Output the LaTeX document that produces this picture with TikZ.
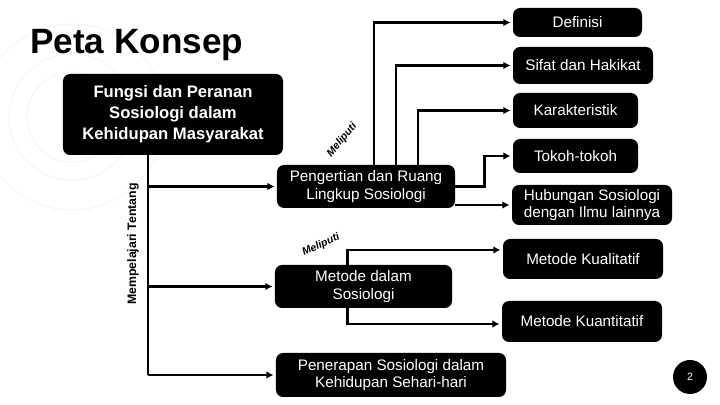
\documentclass[tikz,border=0pt]{standalone}
\usepackage{fontspec}
\setmainfont{Liberation Sans}
\usepackage{tikz}
\usetikzlibrary{arrows.meta, positioning, calc}

\begin{document}
\begin{tikzpicture}[
    x=0.03cm, y=-0.03cm,
    darkbox/.style={rectangle, rounded corners=6pt, fill=black, text=white, align=center, inner sep=2pt, font=\fontsize{13}{15}\selectfont},
    mainbox/.style={darkbox, font=\fontsize{14.2}{18}\selectfont\bfseries},
    arrow/.style={line width=2.4pt, -{Latex[length=6pt,width=6.5pt]}, shorten >=2pt},
    link/.style={line width=2.4pt},
    tag/.style={font=\fontsize{9}{10}\selectfont\bfseries\itshape, inner sep=1pt}
]

\useasboundingbox (0,0) rectangle (720,405);
\foreach \r in {45,63,93}
  \draw [gray!12, line width=0.6pt] (72,117) circle (\r);

\node (title) [anchor=west, font=\fontsize{30}{32}\selectfont\bfseries, inner sep=0pt] at (30,45) {Peta Konsep};

\node (fungsi) [mainbox, minimum width=6.6cm, minimum height=2.43cm] at (173,114.5) {Fungsi dan Peranan\\Sosiologi dalam\\Kehidupan Masyarakat};
\node (pengertian) [darkbox, minimum width=5.34cm, minimum height=1.29cm] at (366,186.5) {Pengertian dan Ruang\\Lingkup Sosiologi};
\node (metode) [darkbox, minimum width=5.31cm, minimum height=1.29cm] at (363.5,286.5) {Metode dalam\\Sosiologi};
\node (penerapan) [darkbox, minimum width=6.9cm, minimum height=1.32cm] at (391,375) {Penerapan Sosiologi dalam\\Kehidupan Sehari-hari};

\node (definisi) [darkbox, minimum width=3.87cm, minimum height=0.87cm] at (577.5,22.5) {Definisi};
\node (sifat) [darkbox, minimum width=4.2cm, minimum height=1.11cm] at (583,65.5) {Sifat dan Hakikat};
\node (karakteristik) [darkbox, minimum width=3.75cm, minimum height=1.05cm] at (575.5,110.5) {Karakteristik};
\node (tokoh) [darkbox, minimum width=3.75cm, minimum height=1.02cm] at (575.5,156) {Tokoh-tokoh};
\node (hubungan) [darkbox, minimum width=4.8cm, minimum height=1.2cm] at (592,205) {Hubungan Sosiologi\\dengan Ilmu lainnya};
\node (kualitatif) [darkbox, minimum width=4.8cm, minimum height=1.2cm] at (583,259) {Metode Kualitatif};
\node (kuantitatif) [darkbox, minimum width=4.8cm, minimum height=1.23cm] at (582,321.5) {Metode Kuantitatif};

\node (hal) [circle, fill=black, text=white, minimum size=1.02cm, inner sep=0pt, font=\fontsize{9}{9}\selectfont] at (690,377) {2};

\coordinate (trunk) at (148,0);
\draw [link] (fungsi.south -| trunk) -- (trunk |- penerapan.west);
\draw [arrow] (trunk |- pengertian.west) -- (pengertian.west);
\draw [arrow] (trunk |- metode.west) -- (metode.west);
\draw [arrow] (trunk |- penerapan.west) -- (penerapan.west);
\node (tentang) [rotate=90, font=\fontsize{10.5}{12}\selectfont\bfseries] at (133,244) {Mempelajari Tentang};

\draw [arrow] ($(pengertian.north)+(8,0)$) |- (definisi);
\draw [arrow] ($(pengertian.north)+(30,0)$) |- (sifat);
\draw [arrow] ($(pengertian.north)+(52,0)$) |- (karakteristik);
\draw [arrow] (pengertian.east) -- ++(29,0) |- (tokoh);
\draw [arrow] (pengertian.east |- hubungan) -- (hubungan);
\node (meliputi1) [tag, rotate=50] at (342,140) {Meliputi};

\draw [arrow] ($(metode.north)+(-16,0)$) |- ($(kualitatif.west)+(0,-9)$);
\draw [arrow] ($(metode.south)+(-16,0)$) |- ($(kuantitatif.west)+(0,2.5)$);
\node (meliputi2) [tag, rotate=25] at (321,245) {Meliputi};

\end{tikzpicture}
\end{document}
